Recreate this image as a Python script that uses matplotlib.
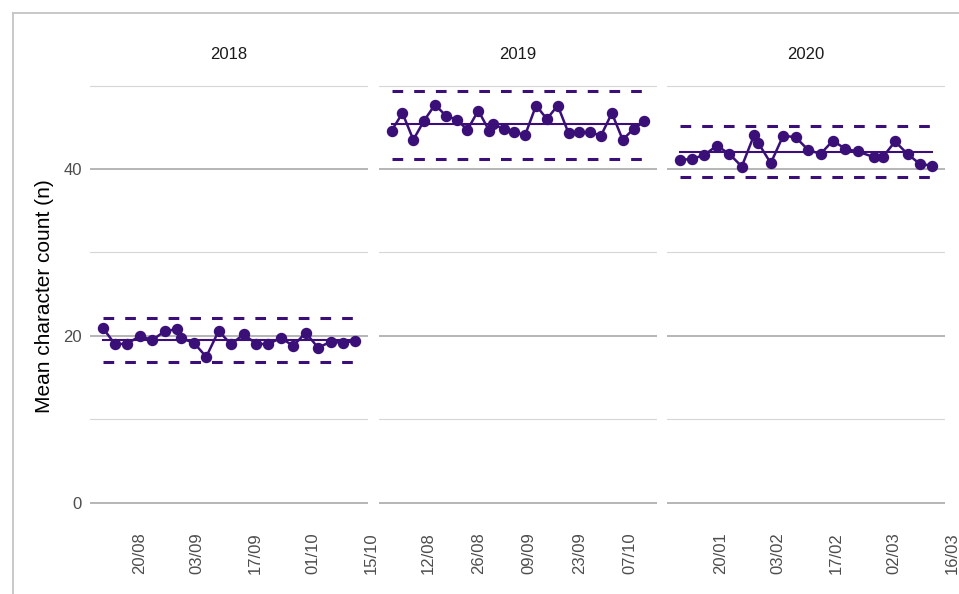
#!/usr/bin/env python3
"""Control charts of mean character count per session, one facet per year."""
import matplotlib
matplotlib.use("Agg")
import numpy as np
import pandas as pd
import matplotlib.pyplot as plt
import matplotlib.dates as mdates
from matplotlib.lines import Line2D

plt.rcParams["font.family"] = ["Liberation Sans", "DejaVu Sans"]

PURPLE = "#3b0f78"

years = ["2018", "2019", "2020"]

dates_2018 = ["2018-08-13", "2018-08-16", "2018-08-19", "2018-08-22", "2018-08-25",
              "2018-08-28", "2018-08-31", "2018-09-01", "2018-09-04", "2018-09-07",
              "2018-09-10", "2018-09-13", "2018-09-16", "2018-09-19", "2018-09-22",
              "2018-09-25", "2018-09-28", "2018-10-01", "2018-10-04", "2018-10-07",
              "2018-10-10", "2018-10-13"]
counts_2018 = [21.0, 19.0, 19.1, 20.0, 19.5, 20.6, 20.8, 19.7, 19.2, 17.5, 20.6,
               19.0, 20.2, 19.1, 19.0, 19.8, 18.8, 20.4, 18.6, 19.3, 19.2, 19.4]

dates_2019 = ["2019-08-04", "2019-08-07", "2019-08-10", "2019-08-13", "2019-08-16",
              "2019-08-19", "2019-08-22", "2019-08-25", "2019-08-28", "2019-08-31",
              "2019-09-01", "2019-09-04", "2019-09-07", "2019-09-10", "2019-09-13",
              "2019-09-16", "2019-09-19", "2019-09-22", "2019-09-25", "2019-09-28",
              "2019-10-01", "2019-10-04", "2019-10-07", "2019-10-10", "2019-10-13"]
counts_2019 = [44.6, 46.7, 43.5, 45.8, 47.7, 46.4, 45.9, 44.7, 47.0, 44.6, 45.4,
               44.8, 44.4, 44.1, 47.6, 46.0, 47.6, 44.3, 44.4, 44.4, 44.0, 46.7,
               43.5, 44.8, 45.7]

dates_2020 = ["2020-01-12", "2020-01-15", "2020-01-18", "2020-01-21", "2020-01-24",
              "2020-01-27", "2020-01-30", "2020-01-31", "2020-02-03", "2020-02-06",
              "2020-02-09", "2020-02-12", "2020-02-15", "2020-02-18", "2020-02-21",
              "2020-02-24", "2020-02-28", "2020-03-01", "2020-03-04", "2020-03-07",
              "2020-03-10", "2020-03-13"]
counts_2020 = [41.1, 41.2, 41.7, 42.8, 41.8, 40.3, 44.1, 43.1, 40.7, 44.0, 43.8,
               42.3, 41.8, 43.4, 42.4, 42.1, 41.4, 41.4, 43.3, 41.8, 40.6, 40.4]

# centre line and control limits
centre = [19.55, 45.35, 42.05]
upper = [22.2, 49.4, 45.1]
lower = [16.9, 41.2, 39.1]

ticks = {
    "2018": ["2018-08-20", "2018-09-03", "2018-09-17", "2018-10-01", "2018-10-15"],
    "2019": ["2019-08-12", "2019-08-26", "2019-09-09", "2019-09-23", "2019-10-07"],
    "2020": ["2020-01-20", "2020-02-03", "2020-02-17", "2020-03-02", "2020-03-16"],
}

series = {
    "2018": (dates_2018, counts_2018),
    "2019": (dates_2019, counts_2019),
    "2020": (dates_2020, counts_2020),
}

W, H = 959, 594
fig = plt.figure(figsize=(W / 100, H / 100), dpi=100)

panel_left = [90, 379, 667]
panel_w = 278
ymax = max(upper)
ylim = (-0.05 * ymax, 1.05 * ymax)
bottom_px, top_px = 523.6, 69.9
ax_bottom = (H - bottom_px) / H
ax_height = (bottom_px - top_px) / H

dash = (0, (3.5, 3.6))

for i, yr in enumerate(years):
    ax = fig.add_axes([panel_left[i] / W, ax_bottom, panel_w / W, ax_height])
    d = mdates.date2num(pd.to_datetime(series[yr][0]))
    y = np.array(series[yr][1])

    ax.plot([d.min(), d.max()], [centre[i]] * 2, color=PURPLE, lw=1.5, zorder=2)
    ax.plot([d.min(), d.max()], [upper[i]] * 2, color=PURPLE, lw=2.2, ls=dash, zorder=2)
    ax.plot([d.min(), d.max()], [lower[i]] * 2, color=PURPLE, lw=2.2, ls=dash, zorder=2)
    ax.plot(d, y, "-o", color=PURPLE, lw=1.8, ms=7.2, zorder=3)

    rng = d.max() - d.min()
    ax.set_xlim(d.min() - 0.05 * rng, d.max() + 0.05 * rng)
    ax.set_ylim(*ylim)

    tk = mdates.date2num(pd.to_datetime(ticks[yr]))
    ax.set_xticks(tk)
    # ggplot-style angle=90 labels: they sit just right of the break
    ax.set_xticklabels([t.strftime("%d/%m") for t in pd.to_datetime(ticks[yr])],
                       rotation=90, rotation_mode="anchor", ha="right", va="top")

    ax.set_yticks([0, 20, 40])
    ax.set_yticks([10, 30, 50], minor=True)
    ax.grid(axis="y", which="major", color="#b5b5b5", lw=1.4)
    ax.grid(axis="y", which="minor", color="#d6d6d6", lw=0.8)
    ax.grid(axis="x", visible=False)
    ax.set_axisbelow(True)
    for s in ax.spines.values():
        s.set_visible(False)
    ax.tick_params(axis="both", which="both", length=0, labelsize=12,
                   labelcolor="#4d4d4d")
    ax.tick_params(axis="x", pad=6)
    ax.tick_params(axis="y", pad=6)
    if i > 0:
        ax.tick_params(axis="y", labelleft=False)

    ax.text(0.5, 1 + 15 / (bottom_px - top_px), yr, transform=ax.transAxes,
            ha="center", va="center", fontsize=12, color="#1a1a1a")

fig.text(44.5 / W, 1 - 296.5 / H, "Mean character count (n)", rotation=90,
         ha="center", va="center", fontsize=15, color="black")

# light frame around the picture (top and left edges)
frame = "#c4c4c4"
fig.add_artist(Line2D([12.5 / W, 12.5 / W], [0, 1 - 12.5 / H], color=frame, lw=1.3,
                      transform=fig.transFigure))
fig.add_artist(Line2D([12.5 / W, 1], [1 - 12.5 / H, 1 - 12.5 / H], color=frame, lw=1.3,
                      transform=fig.transFigure))

fig.savefig("out.png", dpi=100, facecolor="white")
